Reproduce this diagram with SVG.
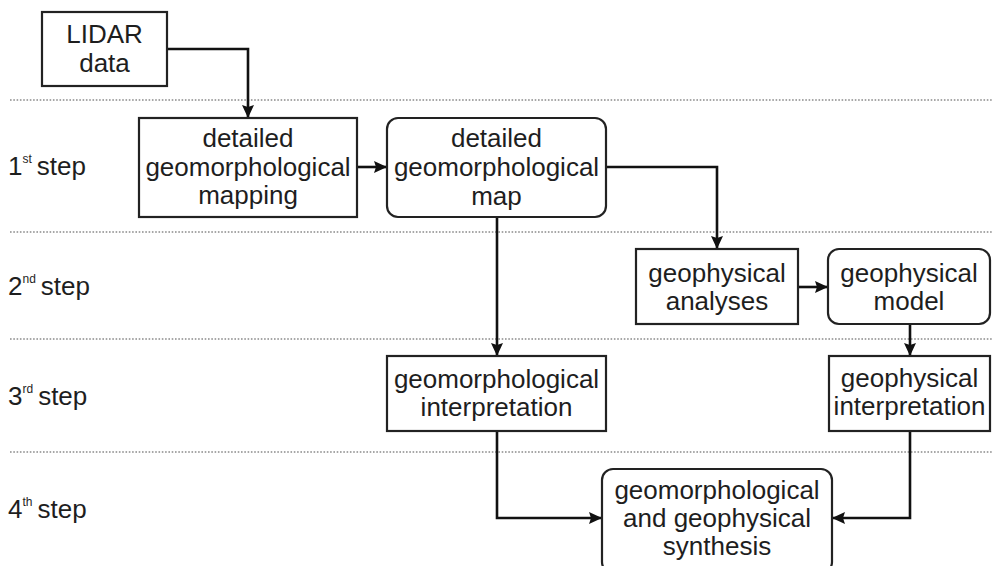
<svg xmlns="http://www.w3.org/2000/svg" width="993" height="566" viewBox="0 0 993 566">
<defs>
<style>
.box{fill:#fff;stroke:#222;stroke-width:2.2}
.t{font-family:"Liberation Sans",Arial,sans-serif;font-size:26px;fill:#1e1e1e;text-anchor:middle}
.s{font-family:"Liberation Sans",Arial,sans-serif;font-size:26px;fill:#1e1e1e}
.sup{font-size:12px}
.dot{stroke:#8a8a8a;stroke-width:1.6;stroke-dasharray:1.6 1.7;fill:none}
.c{fill:none;stroke:#111;stroke-width:2.6}
</style>
<marker id="ah" markerWidth="13" markerHeight="12" refX="12" refY="6" orient="auto" markerUnits="userSpaceOnUse" viewBox="0 0 13 12">
<path d="M0,0 L13,6 L0,12 L2,6 Z" fill="#111"/>
</marker>
</defs>
<rect width="993" height="566" fill="#fff"/>
<g id="gridlines">
<line class="dot" x1="10" y1="100" x2="993" y2="100"/>
<line class="dot" x1="10" y1="232" x2="993" y2="232"/>
<line class="dot" x1="10" y1="339" x2="993" y2="339"/>
<line class="dot" x1="10" y1="452" x2="993" y2="452"/>
</g>
<g id="steps">
<text class="s" x="8" y="175">1<tspan class="sup" dy="-12">st</tspan><tspan dx="5" dy="12">step</tspan></text>
<text class="s" x="8" y="295">2<tspan class="sup" dy="-12">nd</tspan><tspan dx="5" dy="12">step</tspan></text>
<text class="s" x="8" y="405">3<tspan class="sup" dy="-12">rd</tspan><tspan dx="5" dy="12">step</tspan></text>
<text class="s" x="8" y="518">4<tspan class="sup" dy="-12">th</tspan><tspan dx="5" dy="12">step</tspan></text>
</g>
<g id="connectors">
<path class="c" d="M167,49 H248 V117" marker-end="url(#ah)"/>
<path class="c" d="M357,167 H386" marker-end="url(#ah)"/>
<path class="c" d="M606,167 H717 V248" marker-end="url(#ah)"/>
<path class="c" d="M497,217 V355" marker-end="url(#ah)"/>
<path class="c" d="M798,287 H827" marker-end="url(#ah)"/>
<path class="c" d="M910,324 V355" marker-end="url(#ah)"/>
<path class="c" d="M497,431 V518 H601" marker-end="url(#ah)"/>
<path class="c" d="M910,431 V518 H833" marker-end="url(#ah)"/>
</g>
<g id="lidar">
<rect class="box" x="42" y="12" width="125" height="74"/>
<text class="t" x="104.5" y="43">LIDAR</text>
<text class="t" x="104.5" y="72">data</text>
</g>
<g id="mapping">
<rect class="box" x="139" y="118" width="218" height="99"/>
<text class="t" x="248" y="147">detailed</text>
<text class="t" x="248" y="176">geomorphological</text>
<text class="t" x="248" y="204">mapping</text>
</g>
<g id="map">
<rect class="box" x="387" y="118" width="219" height="99" rx="11"/>
<text class="t" x="496.5" y="147">detailed</text>
<text class="t" x="496.5" y="176">geomorphological</text>
<text class="t" x="496.5" y="205">map</text>
</g>
<g id="analyses">
<rect class="box" x="636" y="249" width="162" height="75"/>
<text class="t" x="717" y="282">geophysical</text>
<text class="t" x="717" y="310">analyses</text>
</g>
<g id="model">
<rect class="box" x="828" y="249" width="162" height="75" rx="11"/>
<text class="t" x="909" y="282">geophysical</text>
<text class="t" x="909" y="310">model</text>
</g>
<g id="geomorph-interp">
<rect class="box" x="387" y="356" width="219" height="75"/>
<text class="t" x="496.5" y="388">geomorphological</text>
<text class="t" x="496.5" y="416">interpretation</text>
</g>
<g id="geophys-interp">
<rect class="box" x="829" y="356" width="161" height="75"/>
<text class="t" x="909.5" y="387">geophysical</text>
<text class="t" x="909.5" y="415">interpretation</text>
</g>
<g id="synthesis">
<rect class="box" x="602" y="469" width="230" height="104" rx="11"/>
<text class="t" x="717" y="499">geomorphological</text>
<text class="t" x="717" y="527">and geophysical</text>
<text class="t" x="717" y="555">synthesis</text>
</g>
</svg>
